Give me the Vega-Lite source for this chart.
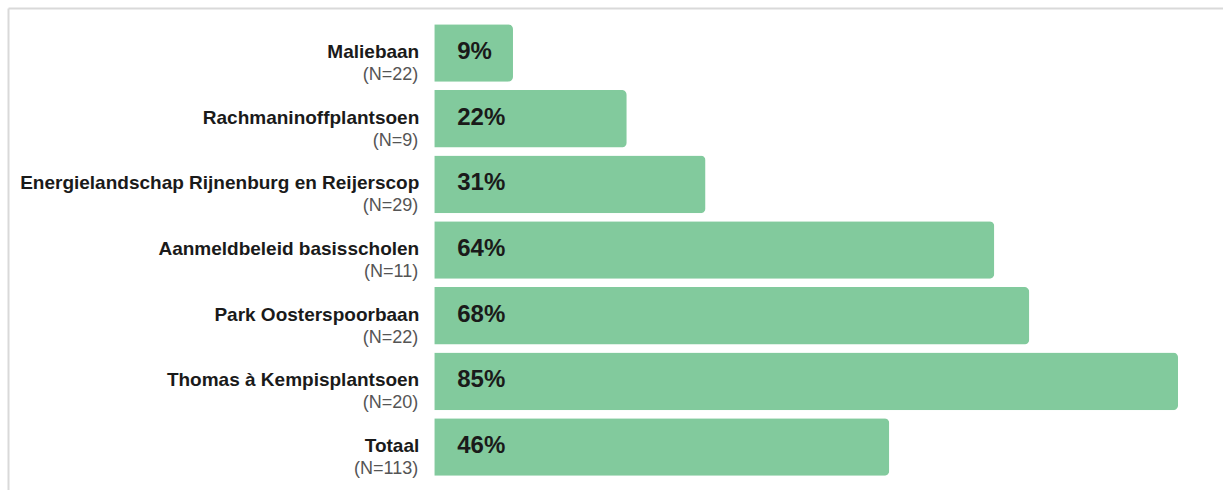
{
  "$schema": "https://vega.github.io/schema/vega-lite/v6.json",
  "width": 1215,
  "height": 482,
  "autosize": {"type": "none"},
  "padding": {"left": 8, "top": 8, "right": 0, "bottom": 0},
  "background": "white",
  "config": {"view": {"stroke": null}, "font": "Liberation Sans"},
  "data": {
    "values": [
      {"name": "Maliebaan", "nlabel": "(N=22)", "bar": 9, "label": "9%"},
      {"name": "Rachmaninoffplantsoen", "nlabel": "(N=9)", "bar": 22, "label": "22%"},
      {"name": "Energielandschap Rijnenburg en Reijerscop", "nlabel": "(N=29)", "bar": 31, "label": "31%"},
      {"name": "Aanmeldbeleid basisscholen", "nlabel": "(N=11)", "bar": 64, "label": "64%"},
      {"name": "Park Oosterspoorbaan", "nlabel": "(N=22)", "bar": 68, "label": "68%"},
      {"name": "Thomas à Kempisplantsoen", "nlabel": "(N=20)", "bar": 85, "label": "85%"},
      {"name": "Totaal", "nlabel": "(N=113)", "bar": 52, "label": "46%"}
    ]
  },
  "encoding": {
    "y": {
      "field": "name",
      "type": "nominal",
      "sort": null,
      "scale": {"paddingInner": 0.124, "paddingOuter": 0.232, "align": 0.534},
      "axis": {"orient": "left", "labels": false, "ticks": false, "title": null, "grid": false, "domainColor": "#d9d9d9", "domainWidth": 2}
    }
  },
  "layer": [
    {
      "mark": {"type": "bar", "color": "#82ca9d", "cornerRadiusEnd": 5},
      "encoding": {
        "x": {
          "field": "bar",
          "type": "quantitative",
          "scale": {"domain": [-48.71, 90.14], "nice": false, "zero": false},
          "axis": {"orient": "top", "labels": false, "ticks": false, "title": null, "grid": false, "domainColor": "#d9d9d9", "domainWidth": 2}
        }
      }
    },
    {
      "mark": {"type": "text", "align": "left", "baseline": "middle", "dx": 23, "dy": -1, "fontSize": 24, "fontWeight": "bold", "color": "#1a1a1a"},
      "encoding": {"x": {"datum": 0}, "text": {"field": "label"}}
    },
    {
      "mark": {"type": "text", "align": "right", "baseline": "middle", "dx": -15, "dy": -1, "fontSize": 19, "fontWeight": "bold", "color": "#1a1a1a"},
      "encoding": {"x": {"datum": 0}, "text": {"field": "name"}}
    },
    {
      "mark": {"type": "text", "align": "right", "baseline": "middle", "dx": -16, "dy": 22, "fontSize": 18, "color": "#555555"},
      "encoding": {"x": {"datum": 0}, "text": {"field": "nlabel"}}
    }
  ]
}
